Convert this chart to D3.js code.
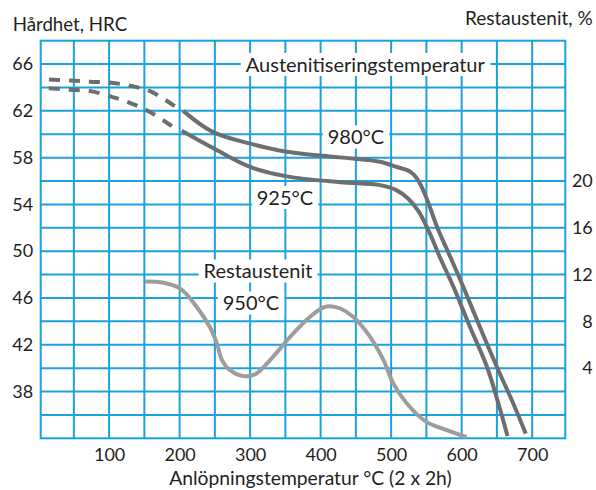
<!DOCTYPE html>
<html>
<head>
<meta charset="utf-8">
<script src="https://cdn.jsdelivr.net/npm/d3@7"></script>
<style>
  body { margin: 0; background: #fff; }
  svg { display: block; font-family: Lato, "Open Sans", sans-serif; }
</style>
</head>
<body>
<svg width="596" height="490"></svg>
<script>
// hardness curves, temperature (°C) and HRC
const hard980DashT = [3, 45, 73, 103, 134, 161, 193];
const hard980DashV = [64.7, 64.6, 64.5, 64.4, 64.1, 63.6, 62.4];
const hard980T = [205, 247, 300, 352, 413, 449, 484, 508, 527, 538, 551, 565, 584, 602, 626, 650, 673, 691];
const hard980V = [62.0, 60.2, 59.2, 58.5, 58.1, 57.9, 57.65, 57.2, 56.8, 56.1, 54.4, 52.1, 49.5, 47.0, 43.5, 40.1, 37.0, 34.4];

const hard925DashT = [3, 43, 73, 104, 133, 158, 189];
const hard925DashV = [64.0, 63.8, 63.7, 63.2, 62.6, 61.9, 60.7];
const hard925T = [203, 248, 300, 352, 428, 484, 508, 524, 539, 555, 569, 588, 612, 636, 652, 665];
const hard925V = [60.3, 58.8, 57.2, 56.4, 55.9, 55.65, 55.2, 54.5, 53.4, 51.5, 49.5, 47.0, 43.5, 40.1, 37.0, 34.2];

// retained austenite (950°C), %
const restT = [151, 177, 201, 224, 243, 253, 260, 272, 293, 309, 333, 357, 385, 404, 413, 428, 446, 470, 489, 503, 522, 550, 579, 607];
const restV = [11.4, 11.3, 10.8, 9.25, 7.5, 6.1, 4.7, 3.8, 3.3, 3.55, 5.0, 6.7, 8.4, 9.2, 9.3, 9.1, 8.4, 6.7, 4.7, 2.7, 1.0, -0.6, -1.3, -1.9];

const xTicks = [100, 200, 300, 400, 500, 600, 700];
const hrcTicks = [66, 62, 58, 54, 50, 46, 42, 38];
const restTicks = [20, 16, 12, 8, 4];

const svg = d3.select('svg');
const gridColor = '#1aa1de';
const textColor = '#231f20';

const x = d3.scaleLinear().domain([3, 747]).range([40.7, 565.3]);
const y = d3.scaleLinear().domain([34, 68]).range([438.3, 40.7]);
// restaustenit % = HRC - 36 on the right axis
const yR = d3.scaleLinear().domain([-2, 32]).range([438.3, 40.7]);

// grid
const grid = svg.append('g')
    .attr('stroke', gridColor)
    .attr('stroke-width', 2)
    .attr('fill', 'none');

grid.selectAll('line.v')
    .data(d3.range(50, 747, 50))
    .enter().append('line')
    .attr('x1', d => x(d)).attr('x2', d => x(d))
    .attr('y1', y(68)).attr('y2', y(34));

grid.selectAll('line.h')
    .data(d3.range(36, 68, 2))
    .enter().append('line')
    .attr('x1', x(3)).attr('x2', x(747))
    .attr('y1', d => y(d)).attr('y2', d => y(d));

grid.append('rect')
    .attr('x', x(3)).attr('y', y(68))
    .attr('width', x(747) - x(3))
    .attr('height', y(34) - y(68));

// label boxes that cut the grid
const labels = [
    {text: 'Austenitiseringstemperatur', cx: 365.3, base: 71.5},
    {text: '980°C', cx: 356, base: 144},
    {text: '925°C', cx: 285, base: 204.5},
    {text: 'Restaustenit', cx: 258, base: 278},
    {text: '950°C', cx: 251, base: 310}
];

const labelG = svg.append('g');
labels.forEach(l => {
    const t = labelG.append('text')
        .attr('x', l.cx)
        .attr('y', l.base)
        .attr('text-anchor', 'middle')
        .attr('font-size', 20)
        .attr('fill', textColor)
        .text(l.text);
    const b = t.node().getBBox();
    labelG.insert('rect', 'text')
        .attr('x', b.x - 5)
        .attr('y', b.y + 1.5)
        .attr('width', b.width + 10)
        .attr('height', b.height - 1)
        .attr('fill', '#fff');
});

// curves
const line = d3.line()
    .x(d => x(d[0]))
    .y(d => y(d[1]))
    .curve(d3.curveCatmullRom.alpha(0.5));

const lineR = d3.line()
    .x(d => x(d[0]))
    .y(d => yR(d[1]))
    .curve(d3.curveCatmullRom.alpha(0.5));

const zip = (a, b) => a.map((v, i) => [v, b[i]]);

svg.append('path')
    .datum(zip(restT, restV))
    .attr('d', lineR)
    .attr('fill', 'none')
    .attr('stroke', '#9d9d9d')
    .attr('stroke-width', 4);

// dashed parts drawn right to left so the pattern meets the solid part with a dash
[[hard980DashT, hard980DashV], [hard925DashT, hard925DashV]].forEach(([t, v]) => {
    svg.append('path')
        .datum(zip(t, v).reverse())
        .attr('d', line)
        .attr('fill', 'none')
        .attr('stroke', '#6d6e71')
        .attr('stroke-width', 4)
        .attr('stroke-dasharray', '11,9');
});

[[hard980T, hard980V], [hard925T, hard925V]].forEach(([t, v]) => {
    svg.append('path')
        .datum(zip(t, v))
        .attr('d', line)
        .attr('fill', 'none')
        .attr('stroke', '#6d6e71')
        .attr('stroke-width', 4);
});

// axes
const leftAxis = svg.append('g')
    .attr('transform', `translate(${x(3)},0)`)
    .call(d3.axisLeft(y).tickValues(hrcTicks).tickSize(0).tickPadding(7.5));

const rightAxis = svg.append('g')
    .attr('transform', `translate(${x(747)},0)`)
    .call(d3.axisRight(yR).tickValues(restTicks).tickSize(0).tickPadding(27.5));
rightAxis.selectAll('text').attr('text-anchor', 'end');

const bottomAxis = svg.append('g')
    .attr('transform', `translate(0,${y(34)})`)
    .call(d3.axisBottom(x).tickValues(xTicks).tickSize(0).tickPadding(10));

[leftAxis, rightAxis, bottomAxis].forEach(a => {
    a.select('.domain').remove();
    a.selectAll('text')
        .attr('font-size', 18)
        .attr('font-family', 'Lato, sans-serif')
        .attr('fill', textColor);
});

// titles
svg.append('text')
    .attr('x', 12.7)
    .attr('y', 31)
    .attr('font-size', 18.7)
    .attr('fill', textColor)
    .text('Hårdhet, HRC');

svg.append('text')
    .attr('x', 592.7)
    .attr('y', 25)
    .attr('text-anchor', 'end')
    .attr('font-size', 19)
    .attr('fill', textColor)
    .text('Restaustenit, %');

svg.append('text')
    .attr('x', 310.5)
    .attr('y', 485)
    .attr('text-anchor', 'middle')
    .attr('font-size', 19.3)
    .attr('fill', textColor)
    .text('Anlöpningstemperatur °C (2 x 2h)');
</script>
</body>
</html>
